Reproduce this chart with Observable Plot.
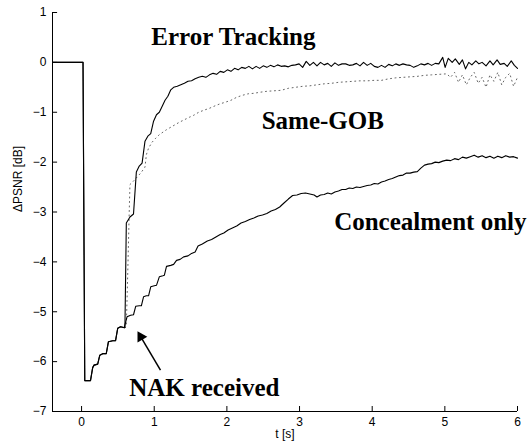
<!DOCTYPE html>
<html>
<head>
<meta charset="utf-8">
<script src="https://cdn.jsdelivr.net/npm/d3@7"></script>
<script src="https://cdn.jsdelivr.net/npm/@observablehq/plot@0.6"></script>
<style>
  html, body { margin: 0; padding: 0; background: white; }
</style>
</head>
<body>
<div id="chart"></div>
<script>
// ---- data (t [s], ΔPSNR [dB]) ----
const errorTracking = [
  [-0.4,0],[0.02,0],[0.044,-6.38],[0.123,-6.38],[0.153,-6.12],[0.172,-6.07],[0.222,-6.05],[0.251,-5.87],[0.291,-5.84],[0.34,-5.84],
  [0.37,-5.6],[0.429,-5.58],[0.468,-5.58],[0.498,-5.33],[0.537,-5.3],[0.597,-5.32],
  [0.616,-3.22],[0.666,-3.1],[0.715,-3.04],[0.754,-2.2],[0.794,-2.08],[0.833,-2.02],[0.873,-1.58],[0.912,-1.48],[0.952,-1.43],
  [0.991,-1.18],[1.031,-1.05],[1.07,-1.0],[1.11,-0.88],[1.149,-0.76],[1.188,-0.68],[1.228,-0.55],[1.267,-0.5],[1.317,-0.48],
  [1.366,-0.45],[1.415,-0.42],[1.465,-0.38],[1.514,-0.37],[1.563,-0.33],[1.613,-0.3],[1.662,-0.28],[1.711,-0.3],[1.761,-0.25],
  [1.81,-0.22],[1.859,-0.24],[1.908,-0.18],[1.958,-0.2],[2.007,-0.15],[2.056,-0.18],[2.106,-0.12],[2.155,-0.15],[2.204,-0.1],
  [2.254,-0.12],[2.303,-0.08],[2.352,-0.13],[2.402,-0.08],[2.451,-0.12],[2.5,-0.07],[2.55,-0.1],[2.599,-0.06],[2.648,-0.09],
  [2.698,-0.05],[2.747,-0.08],[2.796,-0.07],[2.846,-0.09],[2.895,-0.06],[2.944,-0.05],[2.994,-0.03],[3.043,-0.1],[3.092,0.02],
  [3.142,-0.06],[3.191,0.0],[3.24,-0.07],[3.289,0.0],[3.339,-0.05],[3.388,-0.02],[3.437,-0.08],[3.487,-0.01],[3.536,-0.06],
  [3.585,-0.03],[3.635,-0.03],[3.684,-0.06],[3.733,-0.05],[3.783,-0.02],[3.832,-0.07],[3.881,0.0],[3.931,-0.06],[3.98,-0.02],
  [4.029,-0.08],[4.079,-0.1],[4.128,-0.06],[4.177,-0.1],[4.227,-0.04],[4.276,-0.07],[4.325,-0.03],[4.375,-0.06],[4.424,-0.03],
  [4.473,-0.05],[4.522,-0.06],[4.572,-0.1],[4.621,-0.07],[4.67,-0.03],[4.72,-0.05],[4.769,-0.02],[4.818,-0.06],[4.868,-0.02],
  [4.917,-0.03],[4.971,0.1],[5.004,-0.1],[5.047,0.08],[5.101,0.0],[5.144,0.07],[5.199,-0.04],[5.242,0.05],[5.285,-0.13],
  [5.329,0.0],[5.372,-0.05],[5.426,0.03],[5.469,-0.03],[5.513,0.0],[5.567,-0.07],[5.621,0.03],[5.665,-0.05],[5.719,0.05],
  [5.762,-0.04],[5.816,-0.02],[5.859,-0.08],[5.914,0.03],[5.957,-0.06],[6.0,-0.12]
];
const sameGOB = [
  [0.597,-5.32],[0.616,-5.3],[0.636,-4.2],[0.656,-3.0],[0.666,-2.45],[0.715,-2.38],[0.764,-2.3],[0.814,-2.22],[0.873,-2.1],
  [0.892,-1.85],[0.922,-1.72],[0.971,-1.6],[1.021,-1.52],[1.07,-1.45],[1.119,-1.4],[1.169,-1.35],[1.228,-1.3],[1.287,-1.25],
  [1.346,-1.2],[1.415,-1.15],[1.484,-1.1],[1.544,-1.06],[1.613,-1.0],[1.682,-0.96],[1.761,-0.92],[1.839,-0.87],[1.908,-0.83],
  [1.977,-0.8],[2.056,-0.76],[2.135,-0.7],[2.214,-0.66],[2.293,-0.63],[2.372,-0.62],[2.451,-0.6],[2.55,-0.58],[2.648,-0.57],
  [2.747,-0.56],[2.846,-0.52],[2.944,-0.5],[3.043,-0.48],[3.142,-0.47],[3.24,-0.45],[3.339,-0.43],[3.437,-0.42],[3.536,-0.4],
  [3.635,-0.39],[3.733,-0.38],[3.832,-0.37],[3.931,-0.37],[4.029,-0.36],[4.128,-0.36],[4.227,-0.33],[4.325,-0.31],[4.424,-0.3],
  [4.522,-0.29],[4.621,-0.28],[4.72,-0.26],[4.818,-0.25],[4.917,-0.24],[5.025,-0.23],[5.079,-0.3],[5.134,-0.2],[5.188,-0.4],
  [5.242,-0.25],[5.296,-0.45],[5.35,-0.3],[5.404,-0.2],[5.459,-0.42],[5.513,-0.3],[5.567,-0.5],[5.621,-0.25],[5.675,-0.38],
  [5.729,-0.2],[5.783,-0.45],[5.838,-0.3],[5.892,-0.22],[5.946,-0.48],[6.0,-0.3]
];
const concealment = [
  [-0.4,0],[0.02,0],[0.044,-6.38],[0.123,-6.38],[0.153,-6.12],[0.172,-6.07],[0.222,-6.05],[0.251,-5.87],[0.291,-5.84],[0.34,-5.84],
  [0.37,-5.6],[0.429,-5.58],[0.468,-5.58],[0.498,-5.33],[0.537,-5.3],[0.587,-5.32],[0.626,-5.1],[0.675,-5.07],[0.715,-5.06],
  [0.745,-4.89],[0.794,-4.88],[0.823,-4.88],[0.853,-4.7],[0.892,-4.68],[0.922,-4.68],[0.952,-4.5],[1.001,-4.48],[1.031,-4.47],
  [1.07,-4.3],[1.119,-4.28],[1.139,-4.27],[1.169,-4.09],[1.228,-4.07],[1.267,-4.05],[1.307,-3.97],[1.356,-3.95],[1.405,-3.9],
  [1.465,-3.88],[1.514,-3.83],[1.563,-3.8],[1.603,-3.68],[1.662,-3.64],[1.731,-3.58],[1.79,-3.55],[1.849,-3.5],[1.908,-3.45],
  [1.958,-3.42],[2.017,-3.36],[2.076,-3.32],[2.135,-3.28],[2.195,-3.22],[2.254,-3.19],[2.313,-3.15],[2.372,-3.12],[2.431,-3.08],
  [2.49,-3.06],[2.55,-3.03],[2.609,-2.98],[2.668,-2.95],[2.727,-2.9],[2.786,-2.82],[2.846,-2.74],[2.905,-2.67],[2.964,-2.66],
  [3.023,-2.63],[3.082,-2.62],[3.142,-2.64],[3.201,-2.66],[3.24,-2.7],[3.289,-2.66],[3.339,-2.65],[3.388,-2.62],[3.437,-2.64],
  [3.487,-2.6],[3.536,-2.58],[3.585,-2.55],[3.635,-2.55],[3.684,-2.52],[3.733,-2.53],[3.783,-2.5],[3.832,-2.51],[3.881,-2.49],
  [3.931,-2.47],[3.98,-2.46],[4.029,-2.43],[4.079,-2.44],[4.128,-2.4],[4.177,-2.38],[4.227,-2.35],[4.276,-2.33],[4.325,-2.3],
  [4.375,-2.27],[4.424,-2.26],[4.473,-2.22],[4.522,-2.22],[4.572,-2.2],[4.621,-2.19],[4.67,-2.12],[4.72,-2.06],[4.769,-2.04],
  [4.818,-2.03],[4.868,-2.0],[4.917,-2.01],[4.971,-1.98],[5.025,-1.96],[5.079,-1.97],[5.134,-1.93],[5.188,-1.95],[5.242,-1.9],
  [5.296,-1.92],[5.35,-1.89],[5.404,-1.86],[5.459,-1.9],[5.513,-1.87],[5.567,-1.91],[5.621,-1.88],[5.675,-1.92],[5.729,-1.88],
  [5.783,-1.91],[5.838,-1.87],[5.892,-1.9],[5.946,-1.89],[6.0,-1.92]
];
const xTicks = [0, 1, 2, 3, 4, 5, 6];
const yTicks = [-7, -6, -5, -4, -3, -2, -1, 0, 1];
const annotations = [
  {text: "Error Tracking", t: 2.09, v: 0.34},
  {text: "Same-GOB", t: 3.32, v: -1.343},
  {text: "Concealment only", t: 4.80, v: -3.353},
  {text: "NAK received", t: 1.69, v: -6.69}
];
const arrowTail = [{t: 1.086, v: -6.17}];
const arrowHead = [{t: 0.815, v: -5.503}];

const serif = "'Liberation Serif', 'Times New Roman', Times, serif";
const fmt = d3.format("d");

const chart = Plot.plot({
  width: 531,
  height: 444,
  marginLeft: 52,
  marginRight: 14,
  marginTop: 12,
  marginBottom: 33,
  style: {fontFamily: "'Liberation Sans', Arial, Helvetica, sans-serif", fontSize: "12px", background: "white", color: "black"},
  x: {domain: [-0.4, 6]},
  y: {domain: [-7, 1]},
  marks: [
    Plot.ruleY([-7], {stroke: "black", strokeWidth: 1}),
    Plot.ruleX([-0.4], {stroke: "black", strokeWidth: 1}),
    Plot.ruleX(xTicks, {x: d => d, y1: -7, y2: -6.9, stroke: "black"}),
    Plot.ruleY(yTicks, {y: d => d, x1: -0.4, x2: -0.33, stroke: "black"}),
    Plot.axisX(xTicks, {tickSize: 0, tickPadding: 6, label: null, fontSize: 12, tickFormat: fmt}),
    Plot.axisY(yTicks, {tickSize: 0, tickPadding: 6, label: null, fontSize: 12, tickFormat: fmt}),
    Plot.text(["t [s]"], {frameAnchor: "bottom", dy: 26, fontSize: 12}),
    Plot.text(["ΔPSNR [dB]"], {frameAnchor: "left", dx: -34, rotate: -90, fontSize: 12}),
    Plot.line(sameGOB, {x: d => d[0], y: d => d[1], stroke: "#666", strokeWidth: 1, strokeDasharray: "1,3.5"}),
    Plot.line(concealment, {x: d => d[0], y: d => d[1], stroke: "black", strokeWidth: 1.1}),
    Plot.line(errorTracking, {x: d => d[0], y: d => d[1], stroke: "black", strokeWidth: 1.1}),
    Plot.link(arrowTail, {x1: "t", y1: "v", x2: () => arrowHead[0].t, y2: () => arrowHead[0].v, stroke: "black", strokeWidth: 1.5}),
    Plot.dot(arrowHead, {x: "t", y: "v", symbol: "triangle", r: 4.2, fill: "black", stroke: "none", rotate: -30}),
    Plot.text(annotations, {x: "t", y: "v", text: "text", textAnchor: "middle", lineAnchor: "bottom",
      fontFamily: serif, fontWeight: "bold", fontSize: 25, fill: "black"})
  ]
});
document.getElementById("chart").append(chart);
</script>
</body>
</html>
